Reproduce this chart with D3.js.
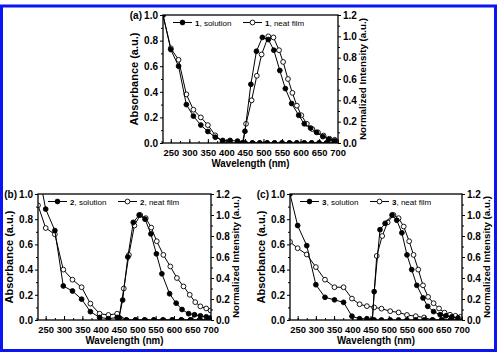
<!DOCTYPE html>
<html>
<head>
<meta charset="utf-8">
<script src="https://cdn.jsdelivr.net/npm/d3@7/dist/d3.min.js"></script>
<style>
body{margin:0;background:#fff}
svg{display:block}
text{font-family:"Liberation Sans",Arial,sans-serif;fill:#000}
</style>
</head>
<body>
<svg id="chart" width="497" height="352"></svg>
<script>
// tick labels
const xTicks = [250,300,350,400,450,500,550,600,650,700]
const absTicks = [0,0.2,0.4,0.6,0.8,1.0]
const emTicks = [0,0.2,0.4,0.6,0.8,1.0,1.2]

// panel (a) compound 1
const absWlA = [229,250,271,292,311,331,350,370,390,410,430,450,470,490,510,530,550,570,590,610,630,650,670,690]
const absSolA = [1.0,0.73,0.60,0.30,0.21,0.14,0.09,0.045,0.02,0.02,0.015,0,0,0,0,0,0,0,0,0,0,0,0,0]
const absFilmA = [1.0,0.74,0.65,0.38,0.26,0.20,0.14,0.06,0.01,0,0,0,0,0,0,0,0,0,0,0,0,0,0,0]
const emWlSolA = [443,450,466,481,497,513,528,544,559,576,595,610,627,643,660,676,692]
const emSolA = [0,0.11,0.55,0.86,0.99,0.97,0.87,0.68,0.51,0.37,0.26,0.18,0.14,0.10,0.06,0.035,0.02]
const emWlFilmA = [445,453,468,482,495,513,527,542,553,566,578,590,602,617,632,647,662,678,692]
const emFilmA = [0,0.18,0.40,0.63,0.83,1.0,0.99,0.87,0.76,0.60,0.47,0.35,0.26,0.18,0.13,0.10,0.07,0.04,0.03]

// panel (b) compound 2
const absWlB = [229,250,275,298,323,348,372,397,421,445,470,495,520,545,570,595,620,645,670,695]
const absSolB = [1.2,0.88,0.71,0.27,0.23,0.165,0.066,0.02,0.01,0.02,0,0,0,0,0,0,0,0,0,0]
const absFilmB = [0.91,0.73,0.68,0.40,0.32,0.26,0.13,0.05,0.04,0.05,0,0,0,0,0,0,0,0,0,0]
const emWlSolB = [450,460,474,489,505,521,537,552,567,588,606,622,640,656,672,688,700]
const emSolB = [0.02,0.19,0.60,0.93,1.0,0.96,0.82,0.63,0.44,0.25,0.16,0.10,0.06,0.05,0.04,0.03,0.02]
const emWlFilmB = [450,463,477,492,508,523,538,553,571,590,608,626,643,658,672,688,700]
const emFilmB = [0.02,0.30,0.62,0.90,1.0,0.97,0.88,0.75,0.62,0.51,0.40,0.32,0.24,0.17,0.13,0.11,0.09]

// panel (c) compound 3
const absWlC = [229,250,275,300,325,351,376,399,420,440,460,480,504,527,550,574,597,620,645,670,695]
const absSolC = [1.0,0.75,0.59,0.28,0.18,0.16,0.14,0.03,0.01,0.01,0,0,0,0,0,0,0,0,0,0,0]
const absFilmC = [0.62,0.57,0.52,0.42,0.32,0.26,0.26,0.17,0.125,0.11,0.10,0.09,0.07,0.06,0.04,0.03,0.02,0,0,0,0]
const emWlSolC = [455,460,476,490,509,522,536,550,563,577,594,607,623,641,657,673,690]
const emSolC = [0,0.27,0.86,0.92,1.0,0.95,0.83,0.62,0.48,0.33,0.21,0.13,0.08,0.05,0.04,0.03,0.02]
const emWlFilmC = [455,467,482,497,513,527,541,556,568,581,594,608,623,638,653,668,683,697]
const emFilmC = [0,0.61,0.80,0.93,1.0,0.97,0.89,0.75,0.62,0.48,0.33,0.22,0.16,0.11,0.07,0.05,0.04,0.03]

const panels = [
  {tag:'(a)',num:'1',l:163,r:338,t:15,b:143,
   abs:[absWlA,absSolA,absFilmA],emSol:[emWlSolA,emSolA],emFilm:[emWlFilmA,emFilmA]},
  {tag:'(b)',num:'2',l:38,r:211,t:194,b:320,
   abs:[absWlB,absSolB,absFilmB],emSol:[emWlSolB,emSolB],emFilm:[emWlFilmB,emFilmB]},
  {tag:'(c)',num:'3',l:290,r:462,t:194,b:320,
   abs:[absWlC,absSolC,absFilmC],emSol:[emWlSolC,emSolC],emFilm:[emWlFilmC,emFilmC]}
]

const svg = d3.select('#chart')

// blue outer frame
svg.append('rect').attr('x',1.5).attr('y',6).attr('width',494).attr('height',344.5)
  .attr('fill','none').attr('stroke','#0a14f5').attr('stroke-width',3)

function drawPanel(p,i){
  const x = d3.scaleLinear().domain([229,701]).range([p.l,p.r])
  const yA = d3.scaleLinear().domain([0,1]).range([p.b,p.t])
  const yE = d3.scaleLinear().domain([0,1.2]).range([p.b,p.t])
  const g = svg.append('g')

  const clipId = 'clip'+i
  svg.append('clipPath').attr('id',clipId).append('rect')
    .attr('x',p.l).attr('y',p.t).attr('width',p.r-p.l).attr('height',p.b-p.t)

  const plot = g.append('g').attr('clip-path',`url(#${clipId})`)

  function series(wl,vals,y,filled){
    const pts = wl.map((w,k)=>[w,vals[k]])
    plot.append('path').datum(pts)
      .attr('fill','none').attr('stroke','#000').attr('stroke-width',1)
      .attr('d',d3.line().x(d=>x(d[0])).y(d=>y(d[1])))
    plot.append('g').selectAll('circle').data(pts).join('circle')
      .attr('cx',d=>x(d[0])).attr('cy',d=>y(d[1])).attr('r',2.4)
      .attr('fill',filled?'#000':'#fff').attr('stroke','#000').attr('stroke-width',0.9)
  }
  series(p.abs[0],p.abs[2],yA,false)
  series(p.abs[0],p.abs[1],yA,true)
  series(p.emFilm[0],p.emFilm[1],yE,false)
  series(p.emSol[0],p.emSol[1],yE,true)

  // axes
  const minor = d3.range(225,701,25)
  g.append('g').attr('transform',`translate(0,${p.b})`)
    .call(d3.axisBottom(x).tickValues(minor).tickSize(-2).tickFormat(''))
  const xa = g.append('g').attr('transform',`translate(0,${p.b})`)
    .call(d3.axisBottom(x).tickValues(xTicks).tickSizeInner(-4).tickSizeOuter(0).tickPadding(6).tickFormat(d3.format('d')))
  xa.selectAll('text').attr('font-size',9.4).attr('font-weight','bold')

  const ya = g.append('g').attr('transform',`translate(${p.l},0)`)
    .call(d3.axisLeft(yA).tickValues(absTicks).tickSize(3).tickPadding(2).tickFormat(d3.format('.1f')))
  ya.selectAll('text').attr('font-size',10).attr('font-weight','bold')
  g.append('g').attr('transform',`translate(${p.l},0)`)
    .call(d3.axisLeft(yA).tickValues(d3.range(0.1,1,0.2)).tickSize(2).tickFormat(''))

  const yr = g.append('g').attr('transform',`translate(${p.r},0)`)
    .call(d3.axisRight(yE).tickValues(emTicks).tickSize(3).tickPadding(2).tickFormat(d3.format('.1f')))
  yr.selectAll('text').attr('font-size',10).attr('font-weight','bold')
  g.append('g').attr('transform',`translate(${p.r},0)`)
    .call(d3.axisRight(yE).tickValues(d3.range(0.1,1.2,0.2)).tickSize(2).tickFormat(''))

  g.selectAll('.domain').remove()
  g.selectAll('.tick line').attr('stroke','#000').attr('stroke-width',1)

  g.append('rect').attr('x',p.l).attr('y',p.t).attr('width',p.r-p.l).attr('height',p.b-p.t)
    .attr('fill','none').attr('stroke','#000').attr('stroke-width',1.3)

  // titles
  g.append('text').attr('x',(p.l+p.r)/2).attr('y',p.b+24).attr('text-anchor','middle')
    .attr('font-size',11).attr('font-weight','bold')
    .attr('textLength',78).attr('lengthAdjust','spacingAndGlyphs').text('Wavelength (nm)')
  g.append('text').attr('transform',`translate(${p.l-25},${(p.t+p.b)/2}) rotate(-90)`)
    .attr('text-anchor','middle').attr('font-size',11).attr('font-weight','bold').text('Absorbance (a.u.)')
  g.append('text').attr('transform',`translate(${p.r+28},${(p.t+p.b)/2}) rotate(-90)`)
    .attr('text-anchor','middle').attr('font-size',9.8).attr('font-weight','bold').text('Normalized Intensity (a.u.)')
  g.append('text').attr('x',p.l-21).attr('y',p.t+3.5).attr('text-anchor','end')
    .attr('font-size',10).attr('font-weight','bold').text(p.tag)

  // legend
  const items = [{lab:', solution',filled:true,x0:p.l+10},{lab:', neat film',filled:false,x0:p.l+80}]
  items.forEach(it=>{
    const ly = p.t+7.5
    g.append('line').attr('x1',it.x0).attr('x2',it.x0+19).attr('y1',ly).attr('y2',ly)
      .attr('stroke','#000').attr('stroke-width',1)
    g.append('circle').attr('cx',it.x0+9.5).attr('cy',ly).attr('r',2.4)
      .attr('fill',it.filled?'#000':'#fff').attr('stroke','#000').attr('stroke-width',0.9)
    const t = g.append('text').attr('x',it.x0+22).attr('y',ly+3).attr('font-size',8)
    t.append('tspan').attr('font-weight','bold').text(p.num)
    t.append('tspan').text(it.lab)
  })
}

panels.forEach(drawPanel)
</script>
</body>
</html>
